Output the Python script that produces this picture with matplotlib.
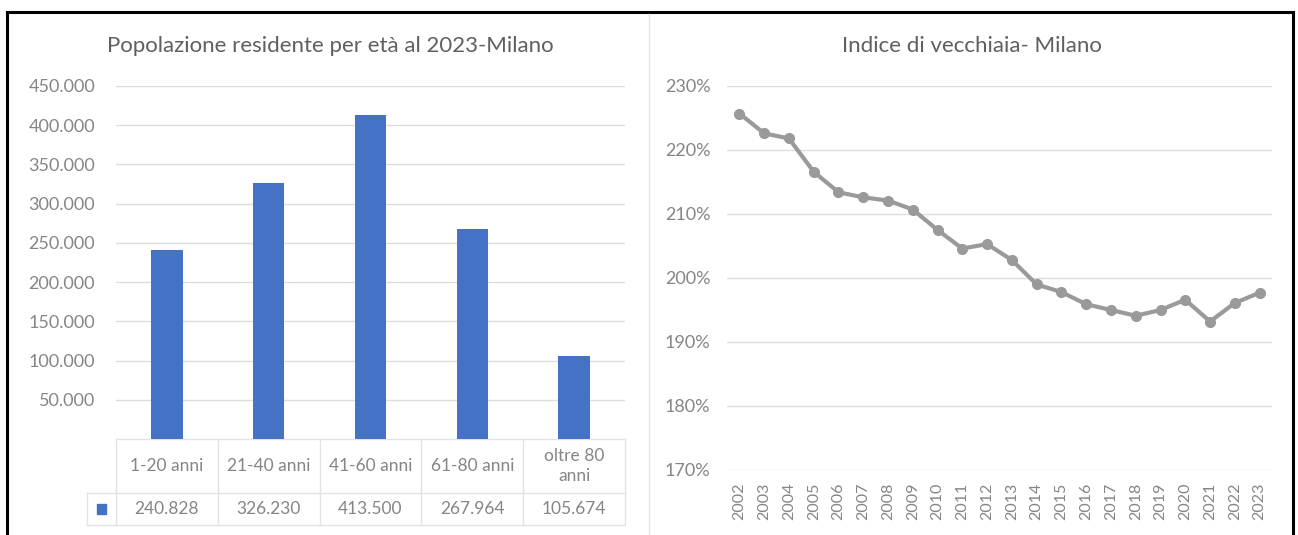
import matplotlib
matplotlib.use("Agg")
import matplotlib.pyplot as plt
from matplotlib.lines import Line2D
from matplotlib.patches import Rectangle
import matplotlib.transforms as mtransforms

# ---------------------------------------------------------------------------
# Data
# ---------------------------------------------------------------------------
AGE_GROUPS = ["1-20 anni", "21-40 anni", "41-60 anni", "61-80 anni", "oltre 80\nanni"]
POPULATION = [240828, 326230, 413500, 267964, 105674]

YEARS = list(range(2002, 2024))
OLD_AGE_INDEX = [225.7, 222.6, 221.8, 216.6, 213.4, 212.6, 212.1, 210.7, 207.5, 204.6,
                 205.3, 202.8, 199.0, 197.8, 195.9, 195.0, 194.1, 195.0, 196.6, 193.2,
                 196.1, 197.7]

POP_TICKS = list(range(50000, 450001, 50000))
IDX_TICKS = list(range(170, 231, 10))

LEFT_TITLE = "Popolazione residente per età al 2023-Milano"
RIGHT_TITLE = "Indice di vecchiaia- Milano"

# ---------------------------------------------------------------------------
# Style
# ---------------------------------------------------------------------------
BLUE = "#4472C4"
LINE_GREY = "#9a9a9a"
GRID = "#dcdcdc"
TEXT = "#858585"
TITLE = "#5f5f5f"
FONT = ["Lato", "DejaVu Sans"]

plt.rcParams["font.family"] = FONT

W, H = 1298, 535
fig = plt.figure(figsize=(W / 100, H / 100), dpi=100, facecolor="white")


def fx(px):
    return px / W


def fy(py):
    return 1 - py / H


def dots(v):
    return f"{v:,}".replace(",", ".")


# ── Left: bar chart with data table ────────────────────────────────────────
ax1 = fig.add_axes([fx(116), fy(439), fx(625 - 116), (439 - 86) / H])
x = list(range(len(AGE_GROUPS)))
ax1.bar(x, POPULATION, width=0.31, color=BLUE, zorder=3)
ax1.set_xlim(-0.5, len(AGE_GROUPS) - 0.5)
ax1.set_ylim(0, 450000)
ax1.set_yticks(POP_TICKS)
ax1.set_yticklabels([dots(t) for t in POP_TICKS])
ax1.set_xticks([])
ax1.tick_params(axis="y", length=0, pad=15, labelsize=13, labelcolor=TEXT)
ax1.grid(axis="y", color=GRID, lw=1, zorder=0)
for s in ax1.spines.values():
    s.set_visible(False)

# data table under the axis
tr = mtransforms.blended_transform_factory(ax1.transData, ax1.transAxes)
ph = 439 - 86
r0, r1, r2 = 0.0, -(493 - 439) / ph, -(525 - 439) / ph
tcol = "#e3e3e3"
for y in (r0, r1, r2):
    ax1.add_line(Line2D([-0.5, len(AGE_GROUPS) - 0.5], [y, y], transform=tr,
                        color=tcol, lw=1, clip_on=False))
for xb in [i - 0.5 for i in range(len(AGE_GROUPS) + 1)]:
    ax1.add_line(Line2D([xb, xb], [r0, r2], transform=tr, color=tcol, lw=1, clip_on=False))
# legend key cell
xl = -0.5 - (116 - 87) / 101.8
ax1.add_line(Line2D([xl, -0.5], [r1, r1], transform=tr, color=tcol, lw=1, clip_on=False))
ax1.add_line(Line2D([xl, -0.5], [r2, r2], transform=tr, color=tcol, lw=1, clip_on=False))
ax1.add_line(Line2D([xl, xl], [r1, r2], transform=tr, color=tcol, lw=1, clip_on=False))
ax1.add_patch(Rectangle(((xl - 0.5) / 2 - 0.045, (r1 + r2) / 2 - 0.013),
                        0.09, 0.026, transform=tr, color=BLUE, clip_on=False))
for i, (lab, val) in enumerate(zip(AGE_GROUPS, POPULATION)):
    ax1.text(i, (r0 + r1) / 2, lab, transform=tr, ha="center", va="center",
             fontsize=12.5, color=TEXT, linespacing=1.35)
    ax1.text(i, (r1 + r2) / 2, dots(val), transform=tr, ha="center", va="center",
             fontsize=12.5, color=TEXT)

fig.text(fx(330), fy(46), LEFT_TITLE, ha="center", va="center", fontsize=16, color=TITLE)

# ── Right: line chart ──────────────────────────────────────────────────────
ax2 = fig.add_axes([fx(727), fy(470), fx(1272 - 727), (470 - 86) / H])
xi = list(range(len(YEARS)))
ax2.plot(xi, OLD_AGE_INDEX, color=LINE_GREY, lw=3, marker="o", ms=7,
         markerfacecolor=LINE_GREY, markeredgecolor=LINE_GREY, zorder=3)
ax2.set_xlim(-0.5, len(YEARS) - 0.5)
ax2.set_ylim(170, 230)
ax2.set_yticks(IDX_TICKS)
ax2.set_yticklabels([f"{t}%" for t in IDX_TICKS])
ax2.set_xticks(xi)
ax2.set_xticklabels([str(y) for y in YEARS], rotation=90)
ax2.tick_params(axis="y", length=0, pad=12, labelsize=13, labelcolor=TEXT)
ax2.tick_params(axis="x", length=0, pad=9, labelsize=11.5, labelcolor=TEXT)
ax2.grid(axis="y", color=GRID, lw=1, zorder=0)
for s in ax2.spines.values():
    s.set_visible(False)

fig.text(fx(972), fy(46), RIGHT_TITLE, ha="center", va="center", fontsize=16, color=TITLE)

# ── Frame & divider ────────────────────────────────────────────────────────
k = dict(color="black", lw=2.2, transform=fig.transFigure)
fig.add_artist(Line2D([fx(7), fx(1293)], [fy(12), fy(12)], **k))
fig.add_artist(Line2D([fx(7), fx(7)], [fy(12), 0], **k))
fig.add_artist(Line2D([fx(1293), fx(1293)], [fy(12), 0], **k))
fig.add_artist(Line2D([fx(649), fx(649)], [fy(14), 0], color="#e6e6e6", lw=1,
                      transform=fig.transFigure))

fig.savefig("out.png", dpi=100, facecolor="white")
